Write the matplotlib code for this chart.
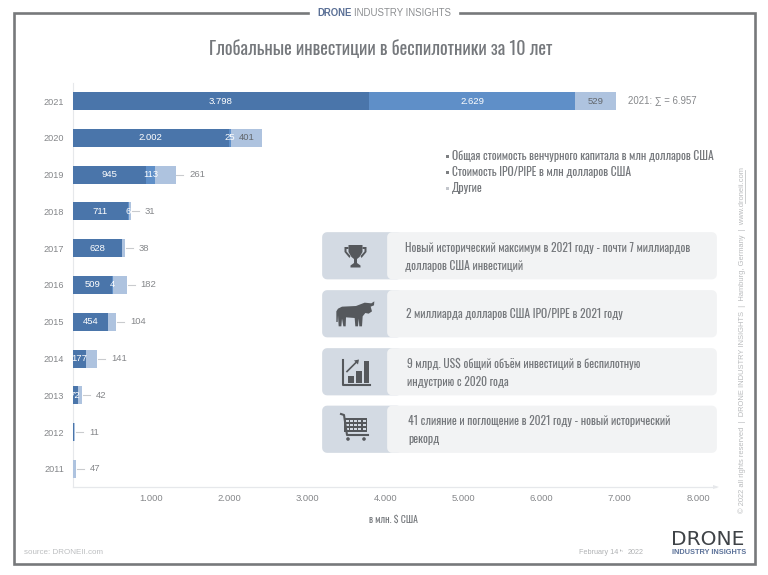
import matplotlib
matplotlib.use('Agg')
import matplotlib.pyplot as plt
from matplotlib.patches import FancyBboxPatch, Polygon, Rectangle, Circle
from matplotlib.ticker import FuncFormatter

years = ['2021', '2020', '2019', '2018', '2017', '2016', '2015', '2014', '2013', '2012', '2011']
venture = [3798, 2002, 945, 711, 628, 509, 454, 177, 72, 25, 0]
ipo = [2629, 25, 113, 6, 2, 4, 0, 0, 4, 0, 0]
others = [529, 401, 261, 31, 38, 182, 104, 141, 42, 11, 47]
# the small 2012 bar carries no readable label of its own
venture_labels = ['3.798', '2.002', '945', '711', '628', '509', '454', '177', '72', '', '']
ipo_labels = ['2.629', '25', '113', '6', '', '4', '', '', '', '', '']
others_labels = ['529', '401', '261', '31', '38', '182', '104', '141', '42', '11', '47']
x_ticks = [1000, 2000, 3000, 4000, 5000, 6000, 7000, 8000]

title = 'Глобальные инвестиции в беспилотники за 10 лет'
legend_labels = ['Общая стоимость венчурного капитала в млн долларов США',
                 'Стоимость IPO/PIPE в млн долларов США',
                 'Другие']
notes = [['Новый исторический максимум в 2021 году - почти 7 миллиардов', 'долларов США инвестиций'],
         ['2 миллиарда долларов США IPO/PIPE в 2021 году'],
         ['9 млрд. US$ общий объём инвестиций в беспилотную', 'индустрию с 2020 года'],
         ['41 слияние и поглощение в 2021 году - новый исторический', 'рекорд']]

DARK = '#4a75aa'
MID = '#5f8fc8'
LIGHT = '#aec3df'
TEXT = '#75787c'
GREY = '#7d7f82'
ICON = '#55585c'
W, H = 768, 575

narrow = ['Oswald', 'Roboto', 'DejaVu Sans']
sans = ['Liberation Sans', 'DejaVu Sans']

fig = plt.figure(figsize=(W / 100, H / 100), dpi=100)

# overlay in pixel coordinates for the frame, panels and icons
bg = fig.add_axes([0, 0, 1, 1])
bg.set_xlim(0, W)
bg.set_ylim(H, 0)
bg.axis('off')


def frame():
    c = '#77797b'
    bg.plot([308, 14, 14, 755, 755, 460], [12.5, 12.5, 564, 564, 12.5, 12.5], color=c, lw=1.9,
            solid_joinstyle='miter')
    bg.text(317, 12.5, 'DRONE', color='#5b7096', fontsize=6.9, family=sans, weight='bold', va='center')
    bg.text(354, 12.5, 'INDUSTRY INSIGHTS', color='#8c8e91', fontsize=6.9, family=sans, va='center')


def panel(y, lines, text_x):
    h = 47.5
    bg.add_patch(FancyBboxPatch((327, y + 5), 70, h - 10, boxstyle='round,pad=0,rounding_size=0.1',
                                fc='#d3dae3', ec='#d3dae3', lw=7, joinstyle='round'))
    bg.add_patch(FancyBboxPatch((392, y + 5), 320, h - 10, boxstyle='round,pad=0,rounding_size=0.1',
                                fc='#f2f3f4', ec='#f2f3f4', lw=7, joinstyle='round'))
    if len(lines) == 1:
        rows = [y + 24]
    else:
        rows = [y + 15.5, y + 33.5]
    for txt, ty in zip(lines, rows):
        bg.text(text_x, ty, txt, color=TEXT, fontsize=8.4, family=narrow, va='center')


def trophy(cx, cy):
    cup = [(-7, -11), (7, -11), (7, -4), (4, 1), (1.5, 3), (1.5, 7), (5, 9.5), (5, 11.5), (-5, 11.5),
           (-5, 9.5), (-1.5, 7), (-1.5, 3), (-4, 1), (-7, -4)]
    bg.add_patch(Polygon([(cx + a, cy + b) for a, b in cup], fc=ICON, ec='none'))
    for s in (-1, 1):
        handle = [(s * 7, -9), (s * 11, -9), (s * 11, -4), (s * 6, 2), (s * 5, 0), (s * 9, -4.5), (s * 9, -7),
                  (s * 7, -7)]
        bg.add_patch(Polygon([(cx + a, cy + b) for a, b in handle], fc=ICON, ec='none'))


def bull(x0, y0):
    pts = [(43, 250), (43, 282), (47, 282), (48, 262), (50, 295), (58, 295), (60, 272), (64, 295), (71, 295),
           (72, 268), (98, 270), (100, 295), (108, 295), (110, 272), (112, 295), (120, 295), (122, 265),
           (130, 255), (140, 257), (150, 250), (146, 236), (156, 232), (157, 220), (148, 226), (128, 224),
           (102, 234), (60, 236), (48, 242)]
    bg.add_patch(Polygon([(x0 + a / 3, y0 + b / 3) for a, b in pts], fc=ICON, ec='none'))


def growth(x0, y0):
    bg.plot([x0, x0, x0 + 27], [y0, y0 + 25.5, y0 + 25.5], color=ICON, lw=1.5)
    for bx, by in [(5, 16), (13, 11), (20.5, 1)]:
        bg.add_patch(Rectangle((x0 + bx, y0 + by), 5.5, 23 - by, fc=ICON, ec='none'))
    bg.plot([x0 + 4, x0 + 14], [y0 + 12, y0 + 2], color=ICON, lw=1.2)
    bg.add_patch(Polygon([(x0 + 16, y0), (x0 + 11, y0 + 1), (x0 + 15, y0 + 5)], fc=ICON, ec='none'))


def cart(x0, y0):
    bg.plot([x0, x0 + 3, x0 + 6, x0 + 27], [y0, y0 + 1, y0 + 21, y0 + 21], color=ICON, lw=1.5)
    bg.add_patch(Rectangle((x0 + 3, y0 + 4), 23, 13.5, fc=ICON, ec='none'))
    for i in range(5):
        for j in range(3):
            bg.add_patch(Rectangle((x0 + 4.5 + i * 4.3, y0 + 5.5 + j * 4), 3, 2.8, fc='#d3dae3', ec='none'))
    for wx in (7, 23):
        bg.add_patch(Circle((x0 + wx, y0 + 25), 1.8, fc=ICON, ec='none'))


frame()
for py, lines, tx in zip([232, 290, 348, 405.5], notes, [405, 406, 407, 408]):
    panel(py, lines, tx)
trophy(355.5, 256)
bull(322, 228)
growth(343, 359.5)
cart(341, 414)

# legend, same squares as the bars
for ly, txt, col in zip([156, 172, 188], legend_labels, [GREY, GREY, '#c3c6cc']):
    bg.add_patch(Rectangle((445.5, ly - 1.5), 3, 3, fc=col, ec='none'))
    bg.text(452, ly, txt, color=TEXT, fontsize=8.4, family=narrow, va='center')

# footer and side texts
bg.text(24, 552.5, 'source: DRONEII.com', color='#bcbec0', fontsize=5.8, family=sans, va='center')
bg.text(579, 553, 'February 14', color='#b0b2b4', fontsize=5.2, family=sans, va='center')
bg.text(619.5, 550.5, 'th', color='#b0b2b4', fontsize=3.2, family=sans, va='center')
bg.text(628, 553, '2022', color='#b0b2b4', fontsize=5.2, family=sans, va='center')
bg.text(671, 539.5, 'DRONE', color='#3f4347', fontsize=14.5, family='DejaVu Sans', va='center')
bg.text(672, 553, 'INDUSTRY INSIGHTS', color='#5c7299', fontsize=5.3, family=sans, weight='bold', va='center')
bg.text(742, 513, '© 2022 all rights reserved  |  DRONE INDUSTRY INSIGHTS  |  Hamburg, Germany  |  www.droneii.com',
        color='#b9bbbd', fontsize=5.4, family=sans, rotation=90, ha='center', va='bottom')
bg.plot([745, 745], [170, 203], color='#c4c6c8', lw=0.6)
bg.text(380.5, 48.5, title, color=TEXT, fontsize=13.1, family=narrow, ha='center', va='center')
bg.text(393.5, 519, 'в млн. $ США', color=TEXT, fontsize=7, family=narrow, ha='center', va='center')
bg.text(628, 101, '2021: ∑ = 6.957', color='#85878a', fontsize=6.9, family=sans, va='center')
bg.plot([72.5, 716], [487, 487], color='#e6e8eb', lw=0.9)
bg.add_patch(Polygon([(713, 485), (719, 487), (713, 489)], fc='#e6e8eb', ec='none'))

# the chart itself
ax = fig.add_axes([72.5 / W, 1 - 487 / H, (698 - 72.5) / W, (487 - 83) / H])
ax.patch.set_alpha(0)
pos = list(range(len(years)))
left2 = [a + b for a, b in zip(venture, ipo)]
bars1 = ax.barh(pos, venture, height=0.49, color=DARK, zorder=3)
bars2 = ax.barh(pos, ipo, left=venture, height=0.49, color=MID, zorder=3)
bars3 = ax.barh(pos, others, left=left2, height=0.49, color=LIGHT, zorder=3)
ax.bar_label(bars1, labels=venture_labels, label_type='center', color='white', fontsize=6.8, family=sans, zorder=4)
ax.bar_label(bars2, labels=ipo_labels, label_type='center', color='white', fontsize=6.8, family=sans, zorder=4)

for i, lab in enumerate(others_labels):
    end = left2[i] + others[i]
    if i < 2:
        ax.text(left2[i] + others[i] / 2, i, lab, color='#62666b', fontsize=6.8, family=sans,
                ha='center', va='center', zorder=4)
    else:
        # dash and value next to the bar
        ax.plot([end + 10, end + 100], [i, i], color='#c9cbce', lw=0.8)
        ax.annotate(lab, (end, i), xytext=(10, 0), textcoords='offset points', color='#85878a',
                    fontsize=6.8, family=sans, va='center')

ax.set_xlim(0, 8000)
ax.set_ylim(10.49, -0.49)
ax.set_yticks(pos)
ax.set_yticklabels(years, color='#85878a', fontsize=6.6, family=sans)
ax.set_xticks(x_ticks)
ax.xaxis.set_major_formatter(FuncFormatter(lambda v, p: f'{int(v):,}'.replace(',', '.')))
ax.tick_params(length=0)
ax.tick_params(axis='x', pad=5, labelsize=6.8, labelcolor='#85878a')
ax.tick_params(axis='y', pad=6)
for lbl in ax.get_xticklabels():
    lbl.set_family(sans)
for side in ['top', 'right', 'bottom']:
    ax.spines[side].set_visible(False)
ax.spines['left'].set_color('#e6e8eb')
ax.spines['left'].set_zorder(1)

fig.savefig('out.png', dpi=100)
